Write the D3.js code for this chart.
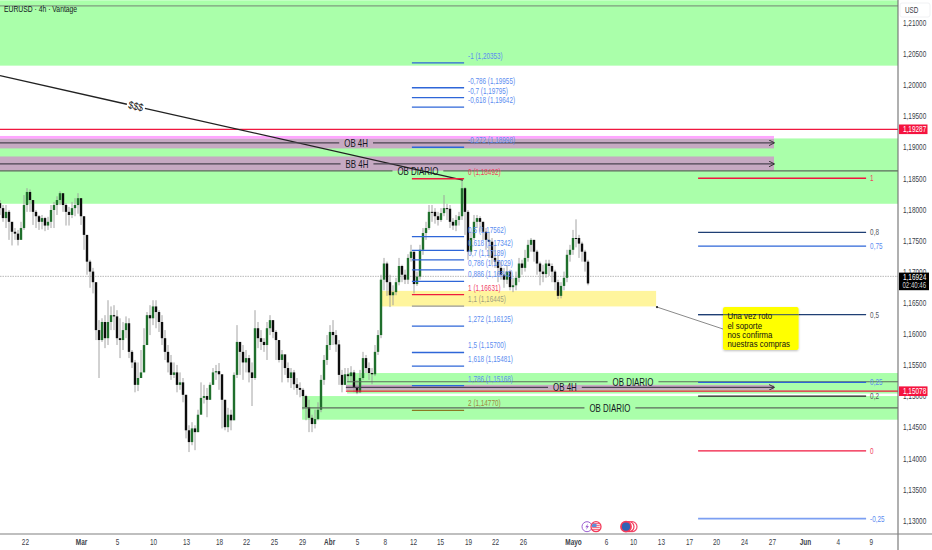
<!DOCTYPE html>
<html><head><meta charset="utf-8">
<script src="https://cdnjs.cloudflare.com/ajax/libs/d3/7.8.5/d3.min.js"></script>
<style>html,body{margin:0;padding:0;background:#fff;overflow:hidden}svg{display:block}text{font-family:"Liberation Sans",Arial,sans-serif}</style>
</head><body><svg id="c" width="932" height="550"></svg>
<script>
// EURUSD candles (one candle per 3 time units of the drawing)
const firstOpen = 1.1810;
const closes = [1.1802,1.1786,1.1796,1.1780,1.1764,1.1761,1.1751,1.1770,1.1807,1.1828,1.1815,1.1796,1.1789,1.1780,1.1786,1.1774,1.1780,1.1799,1.1807,1.1815,1.1826,1.1807,1.1796,1.1791,1.1802,1.1807,1.1818,1.1789,1.1759,1.1716,1.1700,1.1683,1.1606,1.1590,1.1619,1.1593,1.1619,1.1630,1.1628,1.1593,1.1590,1.1606,1.1617,1.1571,1.1554,1.1518,1.1529,1.1538,1.1582,1.1630,1.1625,1.1644,1.1635,1.1619,1.1593,1.1571,1.1554,1.1534,1.1538,1.1518,1.1522,1.1502,1.1445,1.1426,1.1448,1.1442,1.1470,1.1497,1.1500,1.1494,1.1518,1.1538,1.1540,1.1535,1.1494,1.1450,1.1470,1.1461,1.1534,1.1587,1.1571,1.1554,1.1561,1.1538,1.1529,1.1609,1.1593,1.1587,1.1582,1.1609,1.1622,1.1603,1.1590,1.1558,1.1567,1.1545,1.1529,1.1538,1.1519,1.1513,1.1510,1.1500,1.1482,1.1465,1.1455,1.1463,1.1478,1.1526,1.1558,1.1582,1.1603,1.1598,1.1583,1.1534,1.1518,1.1535,1.1532,1.1538,1.1514,1.1506,1.1529,1.1561,1.1545,1.1537,1.1535,1.1571,1.1598,1.1687,1.1713,1.1683,1.1662,1.1667,1.1683,1.1709,1.1695,1.1687,1.1722,1.1732,1.1680,1.1692,1.1735,1.1762,1.1770,1.1796,1.1796,1.1789,1.1783,1.1794,1.1802,1.1801,1.1780,1.1774,1.1783,1.1789,1.1834,1.1796,1.1732,1.1754,1.1780,1.1786,1.1780,1.1764,1.1751,1.1748,1.1722,1.1716,1.1706,1.1695,1.1687,1.1700,1.1675,1.1678,1.1690,1.1713,1.1706,1.1722,1.1743,1.1751,1.1732,1.1713,1.1700,1.1696,1.1713,1.1709,1.1700,1.1683,1.1661,1.1677,1.1690,1.1727,1.1735,1.1754,1.1754,1.1745,1.1732,1.1716,1.1681];
const highs = [1.1815,1.1807,1.1807,1.1799,1.1775,1.1770,1.1767,1.1780,1.1823,1.1834,1.1832,1.1809,1.1799,1.1791,1.1791,1.1788,1.1788,1.1807,1.1812,1.1821,1.1829,1.1823,1.1810,1.1804,1.1812,1.1818,1.1826,1.1796,1.1783,1.1743,1.1719,1.1706,1.1667,1.1622,1.1625,1.1630,1.1654,1.1644,1.1646,1.1638,1.1625,1.1619,1.1628,1.1625,1.1574,1.1558,1.1554,1.1574,1.1609,1.1635,1.1646,1.1654,1.1654,1.1638,1.1630,1.1606,1.1582,1.1566,1.1554,1.1550,1.1538,1.1529,1.1502,1.1453,1.1458,1.1453,1.1478,1.1522,1.1518,1.1513,1.1522,1.1545,1.1550,1.1553,1.1522,1.1490,1.1481,1.1478,1.1538,1.1614,1.1582,1.1582,1.1574,1.1566,1.1554,1.1638,1.1619,1.1606,1.1593,1.1619,1.1630,1.1619,1.1606,1.1582,1.1574,1.1566,1.1554,1.1545,1.1542,1.1529,1.1522,1.1513,1.1502,1.1494,1.1470,1.1478,1.1490,1.1534,1.1566,1.1598,1.1614,1.1622,1.1606,1.1590,1.1542,1.1545,1.1545,1.1548,1.1542,1.1526,1.1542,1.1571,1.1566,1.1554,1.1545,1.1582,1.1606,1.1695,1.1722,1.1716,1.1695,1.1678,1.1690,1.1722,1.1711,1.1703,1.1728,1.1743,1.1687,1.1700,1.1743,1.1770,1.1780,1.1807,1.1807,1.1802,1.1796,1.1802,1.1823,1.1809,1.1807,1.1786,1.1791,1.1796,1.1847,1.1836,1.1799,1.1764,1.1791,1.1791,1.1789,1.1780,1.1770,1.1764,1.1754,1.1743,1.1727,1.1716,1.1706,1.1711,1.1703,1.1690,1.1700,1.1722,1.1719,1.1735,1.1751,1.1754,1.1751,1.1735,1.1716,1.1711,1.1719,1.1719,1.1713,1.1703,1.1687,1.1683,1.1700,1.1735,1.1743,1.1767,1.1784,1.1759,1.1748,1.1735,1.1719];
const lows = [1.1791,1.1780,1.1770,1.1751,1.1742,1.1751,1.1742,1.1754,1.1767,1.1796,1.1796,1.1775,1.1770,1.1767,1.1768,1.1765,1.1767,1.1770,1.1770,1.1791,1.1807,1.1796,1.1774,1.1774,1.1786,1.1789,1.1793,1.1775,1.1735,1.1695,1.1674,1.1665,1.1590,1.1529,1.1587,1.1577,1.1582,1.1606,1.1606,1.1582,1.1561,1.1574,1.1593,1.1561,1.1545,1.1506,1.1508,1.1529,1.1558,1.1582,1.1598,1.1614,1.1609,1.1603,1.1582,1.1558,1.1538,1.1526,1.1529,1.1506,1.1510,1.1490,1.1432,1.1410,1.1421,1.1413,1.1442,1.1478,1.1488,1.1466,1.1494,1.1518,1.1526,1.1510,1.1448,1.1445,1.1442,1.1445,1.1486,1.1529,1.1534,1.1526,1.1538,1.1522,1.1484,1.1526,1.1577,1.1574,1.1571,1.1558,1.1598,1.1593,1.1558,1.1554,1.1522,1.1534,1.1522,1.1513,1.1510,1.1502,1.1498,1.1478,1.1461,1.1442,1.1442,1.1448,1.1461,1.1474,1.1518,1.1550,1.1574,1.1582,1.1571,1.1518,1.1506,1.1518,1.1522,1.1522,1.1506,1.1503,1.1506,1.1526,1.1537,1.1526,1.1519,1.1532,1.1566,1.1593,1.1670,1.1661,1.1643,1.1646,1.1662,1.1678,1.1683,1.1680,1.1680,1.1716,1.1665,1.1677,1.1687,1.1727,1.1751,1.1767,1.1780,1.1777,1.1774,1.1780,1.1789,1.1783,1.1770,1.1767,1.1765,1.1774,1.1783,1.1759,1.1719,1.1727,1.1751,1.1770,1.1764,1.1751,1.1735,1.1722,1.1711,1.1706,1.1683,1.1687,1.1674,1.1680,1.1670,1.1667,1.1670,1.1683,1.1695,1.1700,1.1716,1.1732,1.1716,1.1695,1.1678,1.1683,1.1690,1.1693,1.1683,1.1670,1.1656,1.1657,1.1670,1.1683,1.1716,1.1727,1.1739,1.1722,1.1716,1.1700,1.1678];

// Axes
const priceTicks = [1.21,1.205,1.20,1.195,1.19,1.185,1.18,1.175,1.17,1.165,1.16,1.155,1.15,1.145,1.14,1.135,1.13];
const timeLabels = ["22","Mar","5","10","13","18","22","25","29","Abr","5","8","12","15","19","22","26","Mayo","6","10","13","17","20","24","27","Jun","4","9"];
const timeIndex  = [8.3,27,39,51,62,73,82,91.3,100.7,109.7,119,128.3,137.7,146.7,156,165,174.3,191,202,211,220.3,229.7,238.7,248,257.3,268.3,279.3,290.3];
const monthLabels = ["Mar","Abr","Mayo","Jun"];

// Zones (prices and time indices)
const greenTop    = [1.2136,1.1914,1.1537,1.1500];
const greenBottom = [1.2031,1.1809,1.1504,1.1462];
const greenFrom   = [0,0,115.7,100.7];
const mauveTop    = [1.1914,1.1885,1.1518];
const mauveBottom = [1.1898,1.1862,1.1510];
const mauveFrom   = [0,0,115.3];
const bandEnd = 258;
const chartEnd = 299.33;
const yellowBox = [127.2,218.7,1.1669,1.1644];

// Labelled horizontal drawings
const rowText  = ["OB 4H","BB 4H","OB DIARIO","OB DIARIO","OB 4H","OB DIARIO"];
const rowPrice = [1.1907,1.1873,1.1862,1.1523,1.1514,1.1481];
const rowFrom  = [0,0,0,115.7,115.3,100.7];
const rowTo    = [258,258,299.33,299.33,258,299.33];
const rowMid   = [118.7,119,139.3,211,188.3,203.3];
const rowArrow = [true,true,false,false,true,false];

// Price lines
const redLinePrices = [1.19287,1.15078];
const redLineFrom = [0,115.3];
const lastPrice = 1.16924;
const topLine = 1.2127;

// Trend line "$$$"
const trendStart = [0,1.2015], trendEnd = [154.3,1.1847], trendMid = 45.3;

// Left Fibonacci tool
const fibLevels = ["-1","-0,786","-0,7","-0,618","-0,272","0","0,5","0,618","0,7","0,786","0,886","1","1,1","1,272","1,5","1,618","1,786","2"];
const fibPrices = [1.20353,1.19955,1.19795,1.19642,1.18998,1.18492,1.17562,1.17342,1.17189,1.17029,1.16843,1.16631,1.16445,1.16125,1.15700,1.15481,1.15168,1.14770];
const fibPriceText = ["1,20353","1,19955","1,19795","1,19642","1,18998","1,18492","1,17562","1,17342","1,17189","1,17029","1,16843","1,16631","1,16445","1,16125","1,15700","1,15481","1,15168","1,14770"];
const fibFrom = 137.3, fibTo = 154.7;

// Right Fibonacci tool
const rightLevels = ["1","0,8","0,75","0,5","0,25","0,2","0","-0,25"];
const rightPrices = [1.1850,1.1763,1.1741,1.1631,1.1522,1.1500,1.1412,1.1303];
const rightFrom = 232.7, rightTo = 288.7;

// Callout
const noteLines = ["Una vez roto","el soporte","nos confirma","nuestras compras"];
const noteAnchor = [219,1.1643];
const noteBox = [241,266.2,1.1643,1.1574];

const SQ = 0.74;
const svg = d3.select("#c");
const x = d3.scaleLinear().domain([0,300]).range([0,900]);
const y = d3.scaleLinear().domain([1.21,1.13]).range([22.7,520.5]);
const X = 898, AXY = 534;
const clip = svg.append("defs");
clip.append("clipPath").attr("id","plot").append("rect").attr("width",X).attr("height",AXY);
clip.append("marker").attr("id","arr").attr("viewBox","0 0 10 10").attr("refX",9).attr("refY",5)
  .attr("markerWidth",6).attr("markerHeight",6).attr("markerUnits","userSpaceOnUse").attr("orient","auto")
  .append("path").attr("d","M0,0L10,5L0,10").attr("fill","none").attr("stroke","#333").attr("stroke-width",1.6);
const f = clip.append("filter").attr("id","sh").attr("x","-10%").attr("y","-10%").attr("width","120%").attr("height","130%");
f.append("feDropShadow").attr("dx",0).attr("dy",1).attr("stdDeviation",1).attr("flood-color","#000").attr("flood-opacity",.25);

// the reference's text is horizontally condensed: scale each text about its own x
const squeeze = (sel,k=SQ)=>sel.each(function(){
  const xx=+(this.getAttribute("x")||0), t=this.getAttribute("transform")||"";
  this.setAttribute("transform",`${t} translate(${xx},0) scale(${k},1) translate(${-xx},0)`);
});
const plot = svg.append("g").attr("clip-path","url(#plot)");

// green zones
plot.append("g").selectAll("rect").data(greenTop).join("rect")
  .attr("x",(d,i)=>x(greenFrom[i])).attr("width",(d,i)=>x(chartEnd)-x(greenFrom[i]))
  .attr("y",d=>y(d)).attr("height",(d,i)=>y(greenBottom[i])-y(d)).attr("fill","#aaffaa");
// mauve bands
plot.append("g").selectAll("rect").data(mauveTop).join("rect")
  .attr("x",(d,i)=>x(mauveFrom[i])).attr("width",(d,i)=>x(bandEnd)-x(mauveFrom[i]))
  .attr("y",d=>y(d)).attr("height",(d,i)=>y(mauveBottom[i])-y(d)).attr("fill","#c6a9c2");
// bright pink strip on top of first band
plot.append("rect").attr("x",x(0)).attr("width",x(bandEnd)).attr("y",y(1.1918)).attr("height",y(1.19136)-y(1.1918)).attr("fill","#ffa6ff");
// yellow
plot.append("rect").attr("x",x(yellowBox[0])).attr("width",x(yellowBox[1])-x(yellowBox[0]))
  .attr("y",y(yellowBox[2])).attr("height",y(yellowBox[3])-y(yellowBox[2])).attr("fill","#fff59d");

// last price line
plot.append("line").attr("x1",0).attr("x2",X).attr("y1",y(lastPrice)).attr("y2",y(lastPrice))
  .attr("stroke","#b8b8b8").attr("stroke-dasharray","1.5 1");
plot.append("line").attr("x1",0).attr("x2",X).attr("y1",y(topLine)).attr("y2",y(topLine))
  .attr("stroke","#7f9c7f").attr("stroke-width",1.4);

// candles
const cg = plot.append("g");
cg.selectAll("line").data(closes).join("line")
  .attr("x1",(d,i)=>x(i)).attr("x2",(d,i)=>x(i)).attr("y1",(d,i)=>y(highs[i])).attr("y2",(d,i)=>y(lows[i]))
  .attr("stroke","#9a9a9a").attr("stroke-width",.9);
cg.selectAll("rect").data(closes).join("rect")
  .attr("x",(d,i)=>x(i)-1.2).attr("width",2.4)
  .attr("y",(d,i)=>y(Math.max(d,i?closes[i-1]:firstOpen)))
  .attr("height",(d,i)=>Math.max(1,Math.abs(y(d)-y(i?closes[i-1]:firstOpen))))
  .attr("fill",(d,i)=>d>(i?closes[i-1]:firstOpen)?"#1f6f2c":"#0d0d0d");

// red lines
plot.selectAll(".rl").data(redLinePrices).join("line").attr("class","rl")
  .attr("x1",(d,i)=>x(redLineFrom[i])).attr("x2",X).attr("y1",d=>y(d)).attr("y2",d=>y(d))
  .attr("stroke","#f0173f").attr("stroke-width",1.2);

// trend line
const tx1=x(trendStart[0]),ty1=y(trendStart[1]),tx2=x(trendEnd[0]),ty2=y(trendEnd[1]);
const slope=(ty2-ty1)/(tx2-tx1), mx=x(trendMid), my=ty1+slope*(mx-tx1);
plot.append("line").attr("x1",tx1).attr("y1",ty1).attr("x2",mx-9).attr("y2",my-9*slope).attr("stroke","#222").attr("stroke-width",1.3);
plot.append("line").attr("x1",mx+9).attr("y1",my+9*slope).attr("x2",tx2).attr("y2",ty2).attr("stroke","#222").attr("stroke-width",1.3);
plot.append("text").text("$$$").attr("x",0).attr("y",3.5).attr("text-anchor","middle").attr("font-size",10.5).attr("fill","#111")
  .attr("transform",`translate(${mx},${my}) rotate(${Math.atan(slope)*180/Math.PI})`).call(squeeze,.85);

// labelled rows
rowText.forEach((t,i)=>{
  const cx=x(rowMid[i]), cy=y(rowPrice[i]);
  const tx=plot.append("text").text(t).attr("x",cx).attr("y",cy+3.8).attr("text-anchor","middle").attr("font-size",10.7).attr("fill","#131722");
  const w=tx.node().getComputedTextLength()*SQ; tx.call(squeeze);
  const c = i<2||i==4 ? "#4a4450" : "#5c6b5c";
  plot.append("line").attr("x1",x(rowFrom[i])).attr("x2",cx-w/2-5).attr("y1",cy).attr("y2",cy).attr("stroke",c).attr("stroke-width",1.2);
  const l=plot.append("line").attr("x1",cx+w/2+5).attr("x2",x(rowTo[i])).attr("y1",cy).attr("y2",cy).attr("stroke",c).attr("stroke-width",1.2);
  if(rowArrow[i]) l.attr("marker-end","url(#arr)");
});

// left fib
const fibColor=l=>(l==="0"||l==="1")?"#ee1c3e":l==="1,1"?"#9a9a9a":l==="2"?"#8a7a22":"#2e66d8";
const fibText=l=>(l==="0"||l==="1")?"#f0445f":l==="1,1"?"#9f9f80":l==="2"?"#a08a40":"#5c8df0";
plot.append("g").selectAll("line").data(fibPrices).join("line")
  .attr("x1",x(fibFrom)).attr("x2",x(fibTo)).attr("y1",d=>y(d)).attr("y2",d=>y(d))
  .attr("stroke",(d,i)=>fibColor(fibLevels[i])).attr("stroke-width",1.3);
plot.append("g").selectAll("text").data(fibPrices).join("text")
  .text((d,i)=>`${fibLevels[i]} (${fibPriceText[i]})`)
  .attr("x",x(fibTo)+4).attr("y",d=>y(d)-4).attr("font-size",8.6)
  .attr("fill",(d,i)=>fibText(fibLevels[i])).call(squeeze);

// right fib
const rColor=l=>(l==="1"||l==="0")?"#f0173f":(l==="0,8"||l==="0,5")?"#1f3f74":l==="0,2"?"#222":l==="-0,25"?"#7c9ff2":"#2e66d8";
const rText=l=>(l==="1"||l==="0")?"#f0445f":(l==="0,75"||l==="-0,25"||l==="0,25")?"#5c8df0":"#55595f";
plot.append("g").selectAll("line").data(rightPrices).join("line")
  .attr("x1",x(rightFrom)).attr("x2",x(rightTo)).attr("y1",d=>y(d)).attr("y2",d=>y(d))
  .attr("stroke",(d,i)=>rColor(rightLevels[i])).attr("stroke-width",(d,i)=>rightLevels[i]==="-0,25"?1.8:1.3);
plot.append("g").selectAll("text").data(rightPrices).join("text")
  .text((d,i)=>rightLevels[i]).attr("x",x(rightTo)+4).attr("y",d=>y(d)+3).attr("font-size",8.6)
  .attr("fill",(d,i)=>rText(rightLevels[i])).call(squeeze);

// callout
plot.append("line").attr("x1",x(noteAnchor[0])).attr("y1",y(noteAnchor[1])).attr("x2",x(noteBox[0])).attr("y2",y(noteBox[3])-21)
  .attr("stroke","#8a8a8a").attr("stroke-width",1);
plot.append("circle").attr("cx",x(noteAnchor[0])).attr("cy",y(noteAnchor[1])).attr("r",1.1).attr("fill","#222");
plot.append("rect").attr("x",x(noteBox[0])).attr("width",x(noteBox[1])-x(noteBox[0])).attr("y",y(noteBox[2])).attr("height",y(noteBox[3])-y(noteBox[2]))
  .attr("rx",2).attr("fill","#ffff00").attr("filter","url(#sh)");
// the 0,5 line passes over the box
plot.append("line").attr("x1",x(rightFrom)).attr("x2",x(noteBox[1])).attr("y1",y(rightPrices[3])).attr("y2",y(rightPrices[3])).attr("stroke","#1f3f74").attr("stroke-opacity",.75).attr("stroke-width",1.2);
plot.append("g").selectAll("text").data(noteLines).join("text").text(d=>d)
  .attr("x",x(noteBox[0])+4.5).attr("y",(d,i)=>y(noteBox[2])+12.3+i*9.3).attr("font-size",9.6).attr("fill","#111").call(squeeze,.82);

// event icons
const ev=svg.append("g");
const evAt=(cx,c,fill,sw)=>ev.append("circle").attr("cx",cx).attr("cy",526.7).attr("r",5).attr("fill",fill).attr("stroke",c).attr("stroke-width",sw||1);
evAt(587,"#9c5fd0","#fff");
ev.append("path").attr("d","M588,523.5L585.3,527.3H587L586,530L588.9,526H587.2Z").attr("fill","#9c5fd0");
evAt(596,"#f23a5a","#fff",1.3);
[-3,-1,1,3].forEach(d=>ev.append("line").attr("x1",592.2).attr("x2",599.8).attr("y1",526.7+d).attr("y2",526.7+d).attr("stroke","#f23a5a").attr("stroke-width",.9));
ev.append("path").attr("d","M592.5,523.7H596.5V527H591.5Z").attr("fill","#5c8fd8");
evAt(632,"#f2486a","#fff",1.2);
evAt(629,"#f23a5a","#fff",1.2);
evAt(626,"#f23a5a","#2f63b5",1.8);

// axes lines
svg.append("line").attr("x1",X).attr("x2",X).attr("y1",0).attr("y2",550).attr("stroke","#6f6f6f").attr("stroke-width",1.1);
svg.append("line").attr("x1",0).attr("x2",932).attr("y1",AXY).attr("y2",AXY).attr("stroke","#808080").attr("stroke-width",1.1);

const ya=svg.append("g").attr("transform",`translate(${X+5},0)`)
  .call(d3.axisRight(y).tickValues(priceTicks).tickSize(0).tickPadding(0).tickFormat(d=>d3.format(".5f")(d).replace(".",",")));
ya.select(".domain").remove();
ya.selectAll("text").attr("font-size",8.7).attr("font-family",null).attr("fill","#3a3e48").call(squeeze);

const xa=svg.append("g").attr("transform",`translate(0,${AXY})`)
  .call(d3.axisBottom(x).tickValues(timeIndex).tickSize(0).tickPadding(0).tickFormat((d,i)=>timeLabels[i]));
xa.select(".domain").remove();
xa.selectAll("text").attr("y",11).attr("dy",0).attr("font-size",8.7).attr("font-family",null).attr("fill","#3a3e48")
  .attr("font-weight",function(){return monthLabels.includes(this.textContent)?"bold":null}).call(squeeze);

// title
svg.append("text").text("EURUSD · 4h · Vantage").attr("x",4).attr("y",12.5).attr("font-size",9.2).attr("fill","#131722").call(squeeze);

// USD box
svg.append("rect").attr("x",900).attr("y",3).attr("width",30).attr("height",14).attr("rx",2).attr("fill","#fff").attr("stroke","#f0f1f3");
svg.append("text").text("USD").attr("x",905).attr("y",13).attr("font-size",8.6).attr("fill","#3a3e48").call(squeeze);

// price tags
const tag=(p,txt,fill,h)=>{
  svg.append("rect").attr("x",899).attr("width",28.5).attr("y",y(p)-h/2).attr("height",h).attr("fill",fill);
  svg.append("text").text(txt).attr("x",903).attr("y",y(p)+3.1).attr("font-size",8.7).attr("fill","#fff").call(squeeze);
};
tag(redLinePrices[0],"1,19287","#f5133f",9.6);
tag(redLinePrices[1],"1,15078","#f5133f",9.6);
svg.append("rect").attr("x",899).attr("width",30).attr("y",272.6).attr("height",17.6).attr("fill","#000");
svg.append("text").text("1,16924").attr("x",903).attr("y",280).attr("font-size",8.7).attr("fill","#fff").call(squeeze);
svg.append("text").text("02:40:46").attr("x",902.5).attr("y",288).attr("font-size",8.2).attr("fill","#d8d8d8").call(squeeze);
</script></body></html>
